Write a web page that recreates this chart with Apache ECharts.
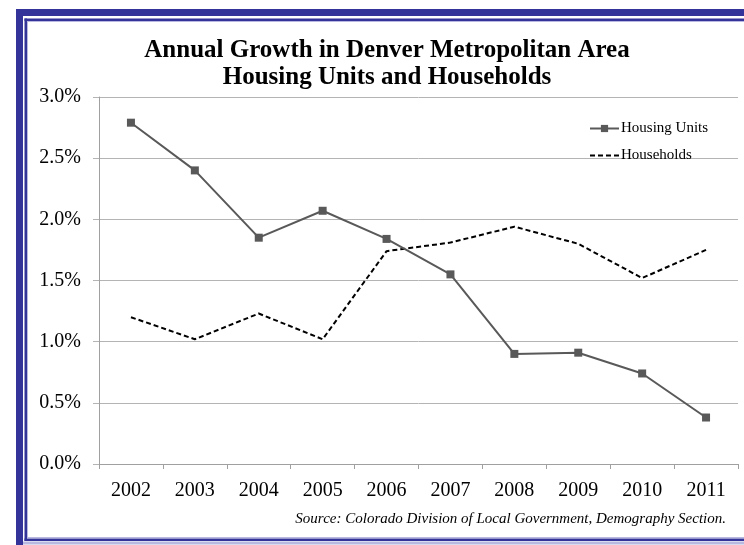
<!DOCTYPE html>
<html>
<head>
<meta charset="utf-8">
<script src="https://cdn.jsdelivr.net/npm/echarts@6/dist/echarts.min.js"></script>
<style>
  html, body { margin: 0; padding: 0; background: #ffffff; }
  #chart { width: 744px; height: 545px; }
</style>
</head>
<body>
<div id="chart"></div>
<script>
// Annual growth rates (%) for the Denver metro area
const years = ['2002', '2003', '2004', '2005', '2006', '2007', '2008', '2009', '2010', '2011'];
const housingUnits = [2.79, 2.40, 1.85, 2.07, 1.84, 1.55, 0.90, 0.91, 0.74, 0.38];
const households = [1.20, 1.02, 1.23, 1.02, 1.74, 1.81, 1.94, 1.80, 1.52, 1.75];
const yTicks = { min: 0, max: 3, step: 0.5 };

const serif = '"Liberation Serif", "Times New Roman", serif';
const navy = '#333399';
const lavender = '#b8b8e0';

const chart = echarts.init(document.getElementById('chart'), null, { renderer: 'canvas' });

chart.setOption({
  backgroundColor: '#ffffff',
  animation: false,
  title: {
    text: 'Annual Growth in Denver Metropolitan Area\nHousing Units and Households',
    left: 387,
    top: 37,
    textAlign: 'center',
    padding: 0,
    textStyle: {
      fontFamily: serif,
      fontWeight: 'bold',
      fontSize: 25,
      lineHeight: 27,
      color: '#000000'
    }
  },
  legend: {
    orient: 'vertical',
    left: 589,
    top: 121,
    itemWidth: 29,
    itemHeight: 9,
    itemGap: 12,
    padding: 0,
    textStyle: {
      fontFamily: serif,
      fontSize: 15,
      lineHeight: 14,
      color: '#000000',
      padding: [0, 0, 0, -3]
    },
    data: [
      { name: 'Housing Units' },
      // dashed rule only, no marker
      { name: 'Households', itemStyle: { color: 'rgba(0,0,0,0)', borderWidth: 0 } }
    ]
  },
  grid: {
    left: 99,
    right: 6,
    top: 97,
    bottom: 81,
    containLabel: false
  },
  xAxis: {
    type: 'category',
    data: years,
    boundaryGap: true,
    axisLine: { show: true, lineStyle: { color: '#a0a0a0', width: 1 } },
    axisTick: { show: true, length: 5, interval: 0, lineStyle: { color: '#a0a0a0' } },
    axisLabel: {
      margin: 17,
      interval: 0,
      fontFamily: serif,
      fontSize: 20,
      color: '#000000'
    },
    splitLine: { show: false }
  },
  yAxis: {
    type: 'value',
    min: yTicks.min,
    max: yTicks.max,
    interval: yTicks.step,
    axisLine: { show: true, lineStyle: { color: '#a0a0a0', width: 1 } },
    axisTick: { show: true, length: 6, lineStyle: { color: '#b4b4b4' } },
    axisLabel: {
      margin: 18,
      fontFamily: serif,
      fontSize: 20,
      color: '#000000',
      formatter: v => v.toFixed(1) + '%'
    },
    splitLine: { show: true, lineStyle: { color: '#b4b4b4', width: 1 } }
  },
  series: [
    {
      name: 'Housing Units',
      type: 'line',
      data: housingUnits,
      symbol: 'rect',
      symbolSize: 8,
      showAllSymbol: true,
      lineStyle: { color: '#595959', width: 2 },
      itemStyle: { color: '#595959', borderWidth: 0 },
      z: 3
    },
    {
      name: 'Households',
      type: 'line',
      data: households,
      symbol: 'none',
      lineStyle: { color: '#000000', width: 2, type: [5, 3] },
      itemStyle: { color: '#000000' },
      z: 2
    }
  ],
  graphic: [
    // double frame: thick outer band, thin inner rule, light inner edge
    { type: 'rect', shape: { x: 16, y: 9, width: 728, height: 7 }, style: { fill: navy }, silent: true },
    { type: 'rect', shape: { x: 16, y: 9, width: 7, height: 536 }, style: { fill: navy }, silent: true },
    { type: 'rect', shape: { x: 24.5, y: 18.5, width: 720, height: 2.5 }, style: { fill: navy }, silent: true },
    { type: 'rect', shape: { x: 24.5, y: 18.5, width: 2.5, height: 522.5 }, style: { fill: navy }, silent: true },
    { type: 'rect', shape: { x: 24.5, y: 538.5, width: 720, height: 2.5 }, style: { fill: navy }, silent: true },
    { type: 'rect', shape: { x: 27, y: 21, width: 717, height: 1 }, style: { fill: lavender }, silent: true },
    { type: 'rect', shape: { x: 27, y: 21, width: 1, height: 516.5 }, style: { fill: lavender }, silent: true },
    { type: 'rect', shape: { x: 27, y: 537, width: 717, height: 1 }, style: { fill: lavender }, silent: true },
    { type: 'rect', shape: { x: 23, y: 541.5, width: 721, height: 3 }, style: { fill: lavender }, silent: true },
    {
      type: 'text',
      right: 18,
      top: 512,
      style: {
        text: 'Source: Colorado Division of Local Government, Demography Section.',
        font: 'italic 15px ' + serif,
        fill: '#000000'
      },
      silent: true
    }
  ]
});
</script>
</body>
</html>
